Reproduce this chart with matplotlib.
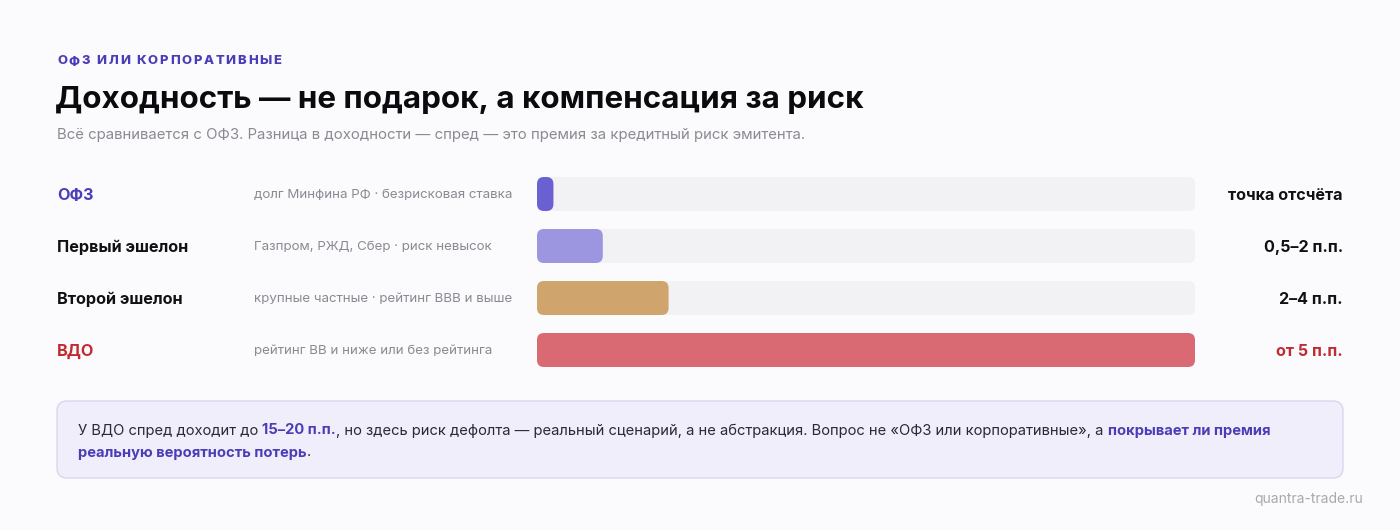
import matplotlib
matplotlib.use('Agg')
import matplotlib.pyplot as plt
from matplotlib.patches import FancyBboxPatch

plt.rcParams['font.family'] = ['Inter', 'DejaVu Sans']

# data
kicker = 'ОФЗ ИЛИ КОРПОРАТИВНЫЕ'
title = 'Доходность — не подарок, а компенсация за риск'
subtitle = 'Всё сравнивается с ОФЗ. Разница в доходности — спред — это премия за кредитный риск эмитента.'
categories = ['ОФЗ', 'Первый эшелон', 'Второй эшелон', 'ВДО']
descriptions = ['долг Минфина РФ · безрисковая ставка',
                'Газпром, РЖД, Сбер · риск невысок',
                'крупные частные · рейтинг BBB и выше',
                'рейтинг BB и ниже или без рейтинга']
spread_max = [0.5, 2, 4, 20]
scale_max = 20
value_labels = ['точка отсчёта', '0,5–2 п.п.', '2–4 п.п.', 'от 5 п.п.']
bar_colors = ['#6B60D2', '#9C95DF', '#D0A46D', '#D96A74']
label_colors = ['#4B3DB8', '#111111', '#111111', '#C22A31']
note_line1 = [('У ВДО спред доходит до ', False), ('15–20 п.п.', True),
              (', но здесь риск дефолта — реальный сценарий, а не абстракция. Вопрос не «ОФЗ или корпоративные», а ', False),
              ('покрывает ли премия', True)]
note_line2 = [('реальную вероятность потерь', True), ('.', False)]
source = 'quantra-trade.ru'

W, H = 1400, 530
BG = '#FBFBFD'
INDIGO = '#4B3DB8'
DY = 1.5  # matplotlib centres on full bbox, nudge down

fig = plt.figure(figsize=(W / 100, H / 100), dpi=100, facecolor=BG)
ax = fig.add_axes([0, 0, 1, 1])
ax.set_xlim(0, W)
ax.set_ylim(H, 0)
ax.axis('off')
renderer = fig.canvas.get_renderer()


def text_width(t):
    bb = t.get_window_extent(renderer)
    return bb.width


def draw_runs(x, y, runs, size, normal_color, bold_color):
    for s, bold in runs:
        t = ax.text(x, y + DY, s, fontsize=size, va='center', ha='left',
                    color=bold_color if bold else normal_color,
                    fontweight='bold' if bold else 'normal')
        x += text_width(t)


# kicker with letter spacing
x = 57
for ch in kicker:
    t = ax.text(x, 60 + DY, ch, fontsize=9.4, fontweight='heavy', color=INDIGO,
                va='center', ha='left')
    x += text_width(t) + 1.8

ax.text(55, 98 + DY, title, fontsize=22.6, fontweight='bold', color='#0B0B0F',
        va='center', ha='left')
ax.text(57, 133 + DY, subtitle, fontsize=10.75, color='#8A8A93', va='center', ha='left')

# rows
row_y = [194, 246, 298, 350]
for i, cat in enumerate(categories):
    ax.text(57, row_y[i] + DY, cat, fontsize=11.7, fontweight='bold',
            color=label_colors[i], va='center', ha='left')
    ax.text(254, row_y[i] + DY, descriptions[i], fontsize=9.6, color='#8A8A93',
            va='center', ha='left')
    ax.text(1343, row_y[i] + DY, value_labels[i], fontsize=11.6, fontweight='bold',
            color='#C22A31' if i == 3 else '#111111', va='center', ha='right')

# bar axes: x 537..1195 px, y 168..376 px
bx0, bx1, by0, by1 = 537, 1195, 168, 376
bax = fig.add_axes([bx0 / W, 1 - by1 / H, (bx1 - bx0) / W, (by1 - by0) / H])
bax.set_xlim(0, scale_max)
bax.set_ylim(len(categories) - 0.5, -0.5)
bax.axis('off')
bax.patch.set_alpha(0)

px_x = (bx1 - bx0) / scale_max
px_y = (by1 - by0) / len(categories)
bar_h = 34 / px_y
rad = 7 / px_x
aspect = px_x / px_y
for i, v in enumerate(spread_max):
    track = FancyBboxPatch((0, i - bar_h / 2), scale_max, bar_h,
                           boxstyle='round,pad=0,rounding_size=%f' % rad,
                           mutation_aspect=aspect, fc='#F2F2F5', ec='none')
    bax.add_patch(track)
    bar = FancyBboxPatch((0, i - bar_h / 2), v, bar_h,
                         boxstyle='round,pad=0,rounding_size=%f' % min(rad, v / 2),
                         mutation_aspect=aspect, fc=bar_colors[i], ec='none')
    bax.add_patch(bar)

# callout box
box = FancyBboxPatch((57, 401), 1286, 77, boxstyle='round,pad=0,rounding_size=10',
                     fc='#F0EEFA', ec='#DAD6F2', lw=1.0)
ax.add_patch(box)
draw_runs(78, 429, note_line1, 10.6, '#2A2A33', INDIGO)
draw_runs(78, 451, note_line2, 10.6, '#2A2A33', INDIGO)

ax.text(1363, 498 + DY, source, fontsize=10, color='#A8A8B0', va='center', ha='right')

fig.savefig('out.png', dpi=100, facecolor=BG)
